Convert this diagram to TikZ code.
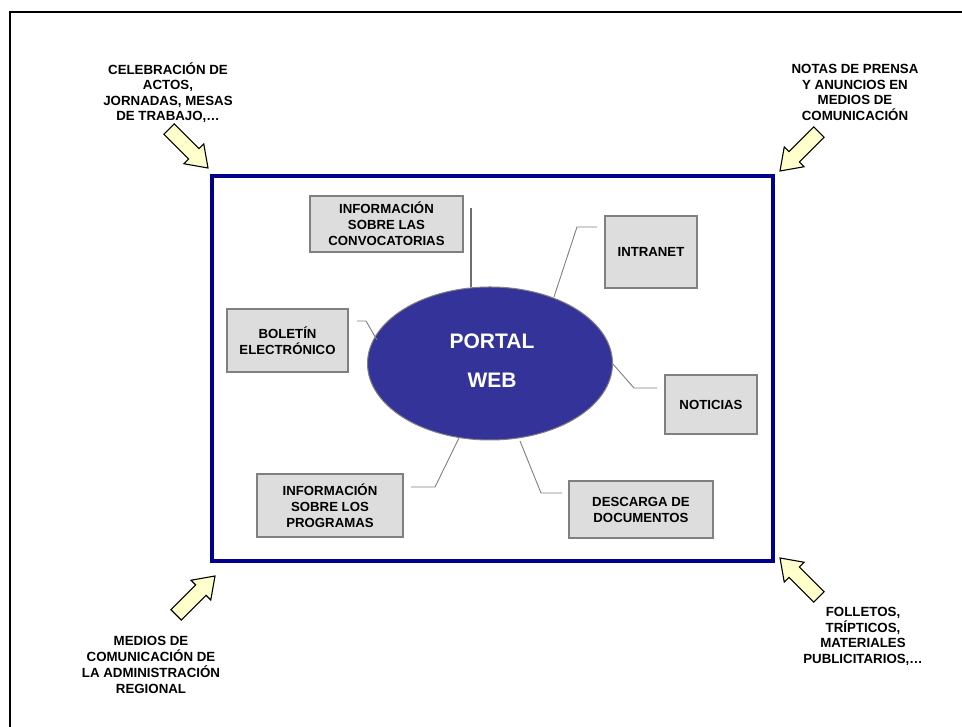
\documentclass[tikz,border=0pt]{standalone}
\usepackage{fontspec}
\setmainfont{Liberation Sans}
\usetikzlibrary{shapes.geometric}
\definecolor{framenavy}{RGB}{0,0,140}
\definecolor{portalblue}{RGB}{51,51,153}
\definecolor{boxgray}{RGB}{221,221,221}
\definecolor{edgegray}{RGB}{128,128,128}
\definecolor{stemgray}{RGB}{110,110,110}
\definecolor{arrowyellow}{RGB}{255,255,204}
\begin{document}
\begin{tikzpicture}[x=1pt,y=1pt,
  box/.style={draw=edgegray, line width=1.2pt, fill=boxgray, align=center,
    font=\bfseries\fontsize{13.2}{16}\selectfont, inner sep=0pt, outer sep=0pt},
  conn/.style={draw=edgegray, line width=0.9pt},
  sidelabel/.style={align=center, font=\bfseries\fontsize{13.3}{15.5}\selectfont, inner sep=0pt},
  arrowshape/.style={draw=black, line width=1.1pt, fill=arrowyellow, line join=miter},
  blockarrow/.pic={\path[arrowshape] (-55,7.3) -- (-20,7.3) -- (-20,14) -- (0,0)
      -- (-20,-14) -- (-20,-7.3) -- (-55,-7.3) -- cycle;}]
\useasboundingbox (0,0) rectangle (962,727);
% outer frame
\draw[line width=2.4pt] (10,-5) -- (10,715) -- (970,715);
% blue frame
\draw[framenavy, line width=4pt, fill=white] (212,166) rectangle (773,551);
% central ellipse
\node[ellipse, draw=edgegray, line width=1pt, fill=portalblue, minimum width=245pt,
  minimum height=153pt, inner sep=0pt, outer sep=0pt] (portal) at (490,363.5) {};
\node[text=white, align=center, font=\bfseries\fontsize{21}{39}\selectfont]
  (portaltext) at (492,366.5) {PORTAL\\WEB};
% boxes
\node[box, minimum width=153pt, minimum height=56pt] (conv) at (386.5,503)
  {INFORMACIÓN\\SOBRE LAS\\CONVOCATORIAS};
\node[box, minimum width=121pt, minimum height=63pt] (bol) at (287.5,386.5)
  {BOLETÍN\\ELECTRÓNICO};
\node[box, minimum width=92pt, minimum height=72pt] (intra) at (651,475)
  {INTRANET};
\node[box, minimum width=92pt, minimum height=59pt] (noti) at (711,322.5)
  {NOTICIAS};
\node[box, minimum width=146pt, minimum height=63pt] (prog) at (330,221.5)
  {INFORMACIÓN\\SOBRE LOS\\PROGRAMAS};
\node[box, minimum width=144pt, minimum height=57pt] (desc) at (641,217.5)
  {DESCARGA DE\\DOCUMENTOS};
% connector free ends
\coordinate (convend) at (471,519);
\coordinate (bolend) at (357,406);
\coordinate (intraend) at (597,500);
\coordinate (notiend) at (657,339);
\coordinate (progend) at (411,240);
\coordinate (descend) at (562,234);
% connectors
\draw[draw=stemgray, line width=1.8pt] (convend) -- (convend |- portal.north);
\draw[conn] (bolend) -- (366,406) -- (377,387);
\draw[conn] (intraend) -- (577,500) -- (554,430);
\draw[conn] (notiend) -- (634,339) -- (612,364);
\draw[conn] (progend) -- (435,240) -- (459,289);
\draw[conn] (descend) -- (541,234) -- (520,286);
% block arrows
\path (208,559) pic[rotate=-45] {blockarrow};
\path (780,556) pic[rotate=-135] {blockarrow};
\path (215,151) pic[rotate=45] {blockarrow};
\path (780,169) pic[rotate=135] {blockarrow};
% side labels
\node[sidelabel] (lblTL) at (168,634.5) {CELEBRACIÓN DE\\ACTOS,\\JORNADAS, MESAS\\DE TRABAJO,…};
\node[sidelabel] (lblTR) at (855,634.5) {NOTAS DE PRENSA\\Y ANUNCIOS EN\\MEDIOS DE\\COMUNICACIÓN};
\node[sidelabel, font=\bfseries\fontsize{13.3}{16}\selectfont] (lblBL) at (151,62) {MEDIOS DE\\COMUNICACIÓN DE\\LA ADMINISTRACIÓN\\REGIONAL};
\node[sidelabel] (lblBR) at (863,90.5) {FOLLETOS,\\TRÍPTICOS,\\MATERIALES\\PUBLICITARIOS,…};
\end{tikzpicture}
\end{document}
